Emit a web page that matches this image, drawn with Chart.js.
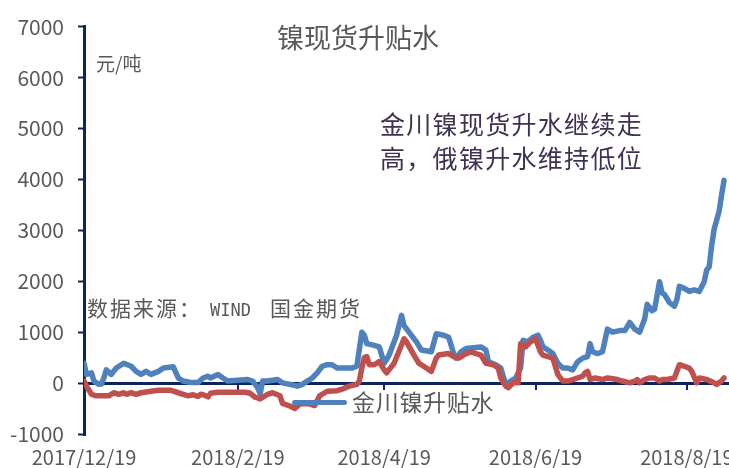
<!DOCTYPE html>
<html>
<head>
<meta charset="utf-8">
<script src="https://cdn.jsdelivr.net/npm/chart.js@4.4.1/dist/chart.umd.min.js"></script>
<style>
	body { margin: 0; background: #fff; }
	#wrap { position: relative; width: 729px; height: 468px; font-family: 'Noto Sans CJK SC', sans-serif; }
	#chartID { position: absolute; left: 0; top: 0; }
	.note { position: absolute; white-space: nowrap; line-height: 1; color: #595959; }
	#title { left: 277px; top: 23px; font-size: 27px; }
	#unit { left: 96px; top: 53px; font-size: 19px; }
	#comment { left: 380px; top: 106px; font-size: 25px; line-height: 34px; letter-spacing: 1.3px; color: #3f3151; }
	#source { left: 87px; top: 297px; font-size: 21px; letter-spacing: 2px; }
	#source .mono { font-family: 'DejaVu Sans Mono', monospace; font-size: 17px; letter-spacing: 0; margin-left: 8px; margin-right: 19px; }
	#legendLine { position: absolute; left: 292px; top: 400px; width: 55px; height: 5px; border-radius: 3px; background: #4f81bd; }
	#legendText { left: 352px; top: 390px; font-size: 23px; letter-spacing: 0.7px; }
</style>
</head>
<body>
<div id="wrap">
	<canvas id="chartID" width="729" height="468"></canvas>
	<div class="note" id="title">镍现货升贴水</div>
	<div class="note" id="unit">元/吨</div>
	<div class="note" id="comment">金川镍现货升水继续走<br>高，俄镍升水维持低位</div>
	<div class="note" id="source">数据来源：<span class="mono">WIND</span>国金期货</div>
	<div id="legendLine"></div>
	<div class="note" id="legendText">金川镍升贴水</div>
</div>
<script>
// 金川镍升贴水 (元/吨)
const jinchuanDates = [
	'2017/12/19', '2017/12/20', '2017/12/22', '2017/12/23', '2017/12/25', '2017/12/26', '2017/12/27', '2017/12/28', '2017/12/30', '2018/1/1',
	'2018/1/4', '2018/1/7', '2018/1/9', '2018/1/11', '2018/1/13', '2018/1/15', '2018/1/18', '2018/1/20', '2018/1/24', '2018/1/26',
	'2018/1/28', '2018/1/31', '2018/2/3', '2018/2/5', '2018/2/7', '2018/2/8', '2018/2/11', '2018/2/13', '2018/2/15', '2018/2/23',
	'2018/2/25', '2018/2/27', '2018/2/28', '2018/3/1', '2018/3/3', '2018/3/7', '2018/3/9', '2018/3/12', '2018/3/15', '2018/3/17',
	'2018/3/19', '2018/3/21', '2018/3/23', '2018/3/25', '2018/3/27', '2018/3/29', '2018/3/31', '2018/4/6', '2018/4/8', '2018/4/10',
	'2018/4/11', '2018/4/12', '2018/4/15', '2018/4/17', '2018/4/18', '2018/4/19', '2018/4/21', '2018/4/24', '2018/4/26', '2018/4/27',
	'2018/4/29', '2018/5/2', '2018/5/4', '2018/5/8', '2018/5/10', '2018/5/13', '2018/5/15', '2018/5/17', '2018/5/18', '2018/5/20',
	'2018/5/22', '2018/5/28', '2018/5/30', '2018/5/31', '2018/6/3', '2018/6/5', '2018/6/6', '2018/6/7', '2018/6/9', '2018/6/11',
	'2018/6/13', '2018/6/14', '2018/6/16', '2018/6/18', '2018/6/20', '2018/6/21', '2018/6/22', '2018/6/24', '2018/6/26', '2018/6/28',
	'2018/6/30', '2018/7/2', '2018/7/4', '2018/7/6', '2018/7/8', '2018/7/10', '2018/7/11', '2018/7/12', '2018/7/14', '2018/7/16',
	'2018/7/18', '2018/7/20', '2018/7/23', '2018/7/25', '2018/7/27', '2018/7/29', '2018/7/31', '2018/8/2', '2018/8/3', '2018/8/5',
	'2018/8/6', '2018/8/8', '2018/8/9', '2018/8/10', '2018/8/12', '2018/8/14', '2018/8/15', '2018/8/16', '2018/8/18', '2018/8/20',
	'2018/8/22', '2018/8/24', '2018/8/26', '2018/8/27', '2018/8/28', '2018/8/29', '2018/8/30', '2018/9/1', '2018/9/2', '2018/9/3',
]
const jinchuanValues = [
	390, 170, 200, 40, -25, -20, 100, 260, 170, 295,
	390, 330, 230, 170, 230, 170, 230, 295, 320, 100,
	40, 10, 10, 100, 135, 100, 170, 100, 40, 70,
	40, -90, -210, 40, 40, 70, 5, -25, -60, -25,
	40, 100, 200, 330, 360, 360, 295, 295, 330, 1000,
	940, 775, 740, 710, 550, 390, 550, 940, 1330, 1130,
	1000, 810, 650, 615, 970, 940, 900, 580, 490, 615,
	680, 710, 650, 420, 360, 295, 135, -25, 40, 100,
	295, 840, 810, 900, 940, 840, 710, 650, 580, 390,
	295, 295, 260, 420, 490, 520, 775, 615, 580, 615,
	1060, 1000, 1030, 1030, 1190, 1060, 1000, 1260, 1545, 1420,
	1450, 1990, 1770, 1740, 1580, 1510, 1640, 1900, 1860, 1800,
	1830, 1800, 1990, 2220, 2280, 2700, 3020, 3370, 3690, 3980,
]

// 俄镍升贴水 (元/吨)
const russiaDates = [
	'2017/12/19', '2017/12/20', '2017/12/22', '2017/12/24', '2017/12/29', '2017/12/31', '2018/1/2', '2018/1/4', '2018/1/5', '2018/1/7',
	'2018/1/9', '2018/1/11', '2018/1/15', '2018/1/18', '2018/1/23', '2018/1/24', '2018/1/26', '2018/1/28', '2018/1/30', '2018/2/1',
	'2018/2/3', '2018/2/4', '2018/2/5', '2018/2/7', '2018/2/8', '2018/2/11', '2018/2/16', '2018/2/22', '2018/2/24', '2018/2/26',
	'2018/2/27', '2018/2/28', '2018/3/3', '2018/3/5', '2018/3/8', '2018/3/9', '2018/3/12', '2018/3/14', '2018/3/16', '2018/3/19',
	'2018/3/22', '2018/3/24', '2018/3/25', '2018/3/27', '2018/3/31', '2018/4/2', '2018/4/5', '2018/4/8', '2018/4/9', '2018/4/10',
	'2018/4/11', '2018/4/12', '2018/4/13', '2018/4/15', '2018/4/17', '2018/4/19', '2018/4/20', '2018/4/23', '2018/4/27', '2018/4/28',
	'2018/5/1', '2018/5/3', '2018/5/6', '2018/5/8', '2018/5/10', '2018/5/11', '2018/5/15', '2018/5/17', '2018/5/19', '2018/5/21',
	'2018/5/24', '2018/5/26', '2018/5/28', '2018/5/30', '2018/6/2', '2018/6/4', '2018/6/5', '2018/6/7', '2018/6/8', '2018/6/10',
	'2018/6/12', '2018/6/13', '2018/6/15', '2018/6/17', '2018/6/19', '2018/6/21', '2018/6/22', '2018/6/24', '2018/6/26', '2018/6/28',
	'2018/6/30', '2018/7/2', '2018/7/4', '2018/7/6', '2018/7/8', '2018/7/9', '2018/7/10', '2018/7/11', '2018/7/13', '2018/7/16',
	'2018/7/18', '2018/7/22', '2018/7/24', '2018/7/27', '2018/7/29', '2018/7/30', '2018/7/31', '2018/8/2', '2018/8/4', '2018/8/6',
	'2018/8/8', '2018/8/9', '2018/8/11', '2018/8/14', '2018/8/16', '2018/8/18', '2018/8/20', '2018/8/21', '2018/8/23', '2018/8/24',
	'2018/8/27', '2018/8/30', '2018/8/31', '2018/9/2', '2018/9/3',
]
const russiaValues = [
	40, -60, -220, -250, -250, -190, -220, -190, -220, -190,
	-220, -190, -160, -140, -140, -160, -190, -220, -250, -230,
	-260, -220, -230, -270, -200, -180, -180, -180, -200, -280,
	-290, -310, -220, -190, -250, -400, -450, -500, -410, -400,
	-440, -250, -220, -160, -150, -120, -60, -25, 40, 300,
	500, 520, 360, 360, 420, 260, 200, 390, 870, 810,
	550, 390, 295, 230, 490, 550, 580, 520, 490, 550,
	615, 580, 550, 390, 360, 295, 100, -60, -90, 5,
	5, 775, 710, 810, 870, 615, 550, 520, 490, 170,
	40, 40, 70, 100, 135, 200, 230, 70, 100, 70,
	100, 70, 40, 5, 40, 70, 5, 70, 100, 100,
	40, 70, 70, 100, 360, 330, 295, 230, 5, 100,
	70, 5, -25, 40, 100,
]

// x axis tick labels and the last day the axis reaches
const tickLabels = ['2017/12/19', '2018/2/19', '2018/4/19', '2018/6/19', '2018/8/19']
const axisEnd = '2018/9/5'

const axisColor = '#0c2461'
const labelColor = '#595959'

// days counted from the first tick label
function dayOf(str) {
	const p = str.split('/').map(Number)
	const q = tickLabels[0].split('/').map(Number)
	return (Date.UTC(p[0], p[1] - 1, p[2]) - Date.UTC(q[0], q[1] - 1, q[2])) / 86400000
}

function toPoints(dates, values) {
	return dates.map(function(d, i) {
		return { x: dayOf(d), y: values[i] }
	})
}

// small tick marks hanging under the zero line
const zeroTicks = {
	id: 'zeroTicks',
	beforeDatasetsDraw(chart) {
		const ctx = chart.ctx
		const xs = chart.scales.x
		const y0 = chart.scales.y.getPixelForValue(0)
		ctx.save()
		ctx.strokeStyle = axisColor
		ctx.lineWidth = 2
		xs.ticks.forEach(function(t, i) {
			if (i === 0) return
			const px = Math.round(xs.getPixelForValue(t.value))
			ctx.beginPath()
			ctx.moveTo(px, y0)
			ctx.lineTo(px, y0 + 7)
			ctx.stroke()
		})
		ctx.restore()
	},
}

const data = {
	datasets: [
		{
			label: '俄镍升贴水',
			data: toPoints(russiaDates, russiaValues),
			borderColor: '#c0504d',
			backgroundColor: '#c0504d',
			borderWidth: 5.5,
			borderJoinStyle: 'round',
			borderCapStyle: 'round',
			pointRadius: 0,
			tension: 0,
			order: 0,
		},
		{
			label: '金川镍升贴水',
			data: toPoints(jinchuanDates, jinchuanValues),
			borderColor: '#4f81bd',
			backgroundColor: '#4f81bd',
			borderWidth: 5.5,
			borderJoinStyle: 'round',
			borderCapStyle: 'round',
			pointRadius: 0,
			tension: 0,
			order: 1,
		},
	],
}

const tickFont = { family: "'Noto Sans CJK SC', sans-serif", size: 20 }

new Chart(document.getElementById('chartID').getContext('2d'), {
	type: 'line',
	data: data,
	plugins: [zeroTicks],
	options: {
		responsive: false,
		animation: false,
		layout: { padding: { top: 18, right: 0, bottom: 0, left: 0 } },
		plugins: {
			legend: { display: false },
			tooltip: { enabled: false },
		},
		scales: {
			x: {
				type: 'linear',
				min: 0,
				max: dayOf(axisEnd),
				grid: { display: false, drawTicks: false },
				border: { display: false },
				afterBuildTicks: function(scale) {
					scale.ticks = tickLabels.map(function(l) { return { value: dayOf(l) } })
				},
				afterFit: function(scale) {
					scale.height = 34
					scale.paddingLeft = 0
					scale.paddingRight = 0
				},
				ticks: {
					autoSkip: false,
					maxRotation: 0,
					padding: 11,
					color: labelColor,
					font: tickFont,
					callback: function(v) {
						const i = tickLabels.findIndex(function(l) { return dayOf(l) === v })
						return i >= 0 ? tickLabels[i] : ''
					},
				},
			},
			y: {
				min: -1000,
				max: 7000,
				afterFit: function(scale) {
					scale.width = 84
				},
				grid: {
					drawOnChartArea: true,
					tickLength: 6,
					tickColor: axisColor,
					lineWidth: 3,
					tickWidth: 2,
					color: function(c) {
						return c.tick && c.tick.value === 0 ? axisColor : 'rgba(0,0,0,0)'
					},
				},
				border: { display: true, color: axisColor, width: 3 },
				ticks: {
					stepSize: 1000,
					padding: 14,
					color: labelColor,
					font: { family: "'Noto Sans CJK SC', sans-serif", size: 21 },
					callback: function(v) {
						return String(v)
					},
				},
			},
		},
	},
})
</script>
</body>
</html>
